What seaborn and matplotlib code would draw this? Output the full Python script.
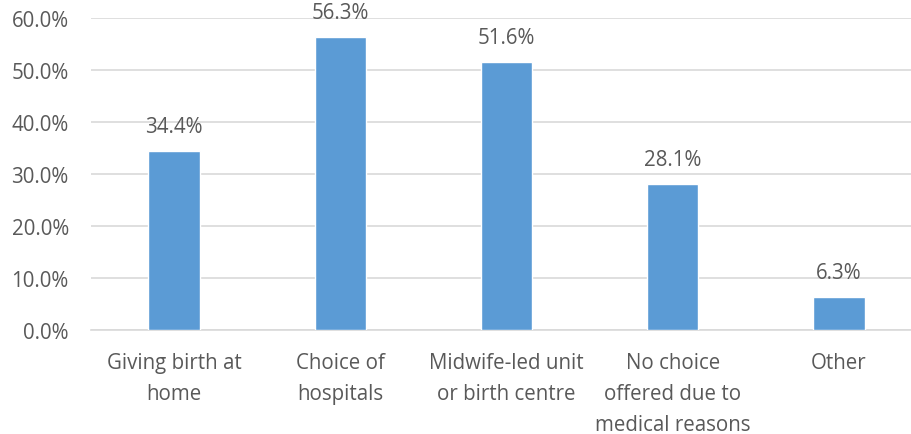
import matplotlib
matplotlib.use("Agg")
import matplotlib.pyplot as plt
import seaborn as sns
import pandas as pd
from matplotlib.ticker import PercentFormatter

categories = [
    "Giving birth at\nhome",
    "Choice of\nhospitals",
    "Midwife-led unit\nor birth centre",
    "No choice\noffered due to\nmedical reasons",
    "Other",
]
shares = [34.4, 56.3, 51.6, 28.1, 6.3]
y_ticks = [0, 10, 20, 30, 40, 50, 60]

df = pd.DataFrame({"category": categories, "share": shares})

sns.set_theme(style="white")
plt.rcParams["font.family"] = ["Open Sans", "DejaVu Sans"]

text_color = "#595959"
bar_color = "#5B9BD5"
grid_color = "#D9D9D9"
fs = 14.8

fig = plt.figure(figsize=(9.12, 4.35), dpi=100)
ax = fig.add_axes([91 / 912, (435 - 331) / 435, (912 - 91) / 912, (331 - 19) / 435])

sns.barplot(data=df, x="category", y="share", color=bar_color, width=0.31,
            saturation=1, ax=ax, zorder=3)

ax.set_ylim(0, 60)
ax.set_xlim(-0.5, 4.5 - 10 / 166.25)
ax.set_yticks(y_ticks)
ax.yaxis.set_major_formatter(PercentFormatter(decimals=1))
ax.grid(axis="y", color=grid_color, linewidth=1.2, zorder=0)
ax.set_axisbelow(True)
for side in ["top", "right", "left"]:
    ax.spines[side].set_visible(False)
ax.spines["bottom"].set_color(grid_color)
ax.spines["bottom"].set_linewidth(1.2)

ax.tick_params(axis="y", length=0, pad=16, labelsize=fs, labelcolor=text_color)
ax.tick_params(axis="x", length=0, pad=16, labelsize=fs, labelcolor=text_color)
for lbl in ax.get_xticklabels():
    lbl.set_linespacing(1.63)
    lbl.set_verticalalignment("top")

ax.set_xlabel("")
ax.set_ylabel("")

for i, v in enumerate(shares):
    ax.annotate(f"{v:.1f}%", (i, v), xytext=(0, 10), textcoords="offset points",
                ha="center", va="bottom", fontsize=fs, color=text_color)

fig.savefig("out.png", dpi=100, facecolor="white")
